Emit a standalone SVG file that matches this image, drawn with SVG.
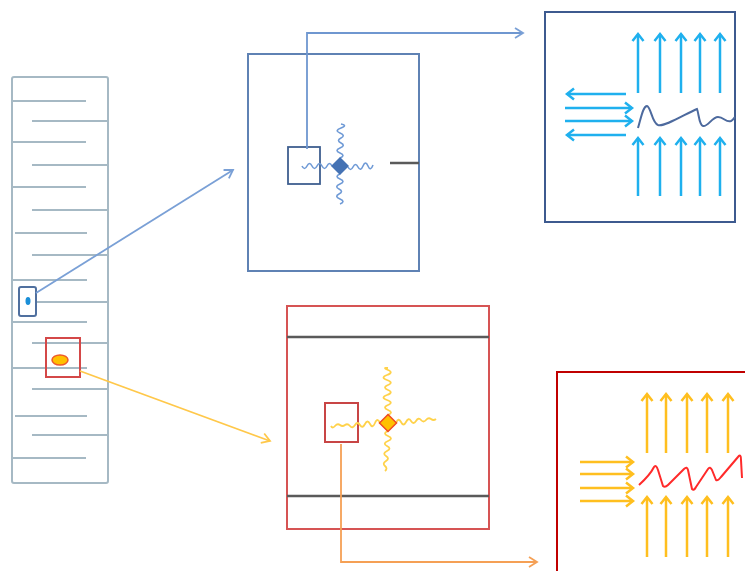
<svg xmlns="http://www.w3.org/2000/svg" width="745" height="571" viewBox="0 0 745 571">
  <style>
    .rung { stroke: #a6b9c4; stroke-width: 2; fill: none; }
    .sky { stroke: #1fb0ee; stroke-width: 2.5; fill: none; marker-end: url(#head-sky); }
    .amber { stroke: #ffbf1f; stroke-width: 2.5; fill: none; marker-end: url(#head-amber); }
    .wave-blue { stroke: #6f9ad6; stroke-width: 1.6; fill: none; }
    .wave-yellow { stroke: #ffd24a; stroke-width: 1.8; fill: none; }
    .divider { stroke: #5a5a5a; stroke-width: 2.5; }
  </style>
  <defs>
    <marker id="head-sky" markerUnits="userSpaceOnUse" markerWidth="14" markerHeight="14" refX="0" refY="0" viewBox="-8 -7 10 14" orient="auto">
      <path d="M-7,-5.5 L0,0 L-7,5.5" stroke="#1fb0ee" stroke-width="2.5" fill="none"/>
    </marker>
    <marker id="head-amber" markerUnits="userSpaceOnUse" markerWidth="14" markerHeight="14" refX="0" refY="0" viewBox="-8 -7 10 14" orient="auto">
      <path d="M-7,-5.5 L0,0 L-7,5.5" stroke="#ffbf1f" stroke-width="2.5" fill="none"/>
    </marker>
    <marker id="head-link-blue" markerUnits="userSpaceOnUse" markerWidth="14" markerHeight="14" refX="0" refY="0" viewBox="-9 -7 10 14" orient="auto">
      <path d="M-8,-5 L0,0 L-8,5" stroke="#7aa0d6" stroke-width="1.8" fill="none"/>
    </marker>
    <marker id="head-link-yellow" markerUnits="userSpaceOnUse" markerWidth="14" markerHeight="14" refX="0" refY="0" viewBox="-9 -7 10 14" orient="auto">
      <path d="M-8,-5 L0,0 L-8,5" stroke="#ffc84a" stroke-width="1.8" fill="none"/>
    </marker>
    <marker id="head-link-orange" markerUnits="userSpaceOnUse" markerWidth="14" markerHeight="14" refX="0" refY="0" viewBox="-9 -7 10 14" orient="auto">
      <path d="M-8,-5 L0,0 L-8,5" stroke="#f5a055" stroke-width="1.8" fill="none"/>
    </marker>
  </defs>

  <rect width="745" height="571" fill="#ffffff"/>

  <!-- ladder column -->
  <g id="column">
    <rect x="12" y="77" width="96" height="406" rx="2" fill="none" stroke="#a6b9c4" stroke-width="2"/>
    <path class="rung" d="M12,101H86 M12,142H86 M12,187H86 M15,233H87 M12,280H87 M12,322H87 M12,368H87 M15,416H87 M12,458H86"/>
    <path class="rung" d="M32,121H108 M32,165H108 M32,210H108 M32,255H108 M32,302H108 M32,343H108 M32,389H108 M32,435H108"/>
  </g>

  <g id="marker-blue">
    <rect x="19" y="287" width="17" height="29" rx="2" fill="#ffffff" stroke="#50709f" stroke-width="2"/>
    <ellipse cx="28" cy="301" rx="2.5" ry="4" fill="#1a8fd8"/>
  </g>

  <g id="marker-red">
    <rect x="46" y="338" width="34" height="39" fill="none" stroke="#d44848" stroke-width="2"/>
    <ellipse cx="60" cy="360" rx="8" ry="5" fill="#ffc000" stroke="#ee5a2a" stroke-width="1.5"/>
  </g>

  <!-- upper detail -->
  <g id="detail-blue">
    <rect x="248" y="54" width="171" height="217" fill="none" stroke="#5f82b4" stroke-width="2"/>
    <rect x="288" y="147" width="32" height="37" fill="none" stroke="#3f5f90" stroke-width="1.8"/>
    <path class="wave-blue" d="M340,158 q6,-2.5 0,-5 t0,-5 t1,-5 t0,-5 t-1,-5 t1,-5 t0,-4"/>
    <path class="wave-blue" d="M340,174 q-6,2.5 0,5 t0,5 t-1,5 t0,5 t1,5 t0,5"/>
    <path class="wave-blue" d="M348,167 q2.5,5 5,0 t5,0 t5,-1 t5,0 t5,-1"/>
    <path class="wave-blue" d="M332,166 q-2.5,-5 -5,0 t-5,0 t-5,0 t-5,0 t-5,0 t-5,0"/>
    <path d="M340,157 L349,166 L340,175 L331,166 Z" fill="#4472b4"/>
    <line class="divider" x1="390" y1="163" x2="419" y2="163"/>
  </g>

  <g id="view-blue">
    <rect x="545" y="12" width="190" height="210" fill="#ffffff" stroke="#3d5a8f" stroke-width="2"/>
    <line class="sky" x1="638" y1="93" x2="638" y2="34"/>
    <line class="sky" x1="660" y1="93" x2="660" y2="34"/>
    <line class="sky" x1="681" y1="93" x2="681" y2="34"/>
    <line class="sky" x1="700" y1="93" x2="700" y2="34"/>
    <line class="sky" x1="720" y1="93" x2="720" y2="34"/>
    <line class="sky" x1="638" y1="196" x2="638" y2="138"/>
    <line class="sky" x1="660" y1="196" x2="660" y2="138"/>
    <line class="sky" x1="681" y1="196" x2="681" y2="138"/>
    <line class="sky" x1="700" y1="196" x2="700" y2="138"/>
    <line class="sky" x1="720" y1="196" x2="720" y2="138"/>
    <line class="sky" x1="626" y1="94" x2="567" y2="94"/>
    <line class="sky" x1="565" y1="108" x2="632" y2="108"/>
    <line class="sky" x1="565" y1="121" x2="632" y2="121"/>
    <line class="sky" x1="626" y1="135" x2="567" y2="135"/>
    <path d="M638,128 C641,118 643,106 647,106 C651,107 652,123 658,125 C665,127 685,114 697,109 C699,114 699,125 703,126 C708,127 712,117 718,117 C724,117 726,123 731,121 C733,120 734,118 735,117" fill="none" stroke="#4d6a9e" stroke-width="2"/>
  </g>

  <!-- lower detail -->
  <g id="detail-red">
    <rect x="287" y="306" width="202" height="223" fill="none" stroke="#d65454" stroke-width="2"/>
    <line class="divider" x1="287" y1="337" x2="489" y2="337"/>
    <line class="divider" x1="287" y1="496" x2="489" y2="496"/>
    <rect x="325" y="403" width="33" height="39" fill="none" stroke="#c84545" stroke-width="2"/>
    <path class="wave-yellow" d="M388,415 q6,-2.5 0,-5 t0,-5 t-1,-5 t0,-5 t1,-5 t0,-5 t-1,-5 t0,-5 t1,-5 t0,-2"/>
    <path class="wave-yellow" d="M388,431 q-6,2.5 0,5 t0,5 t-1,5 t0,5 t-1,5 t0,5 t-1,5 t0,5"/>
    <path class="wave-yellow" d="M396,423 q2.5,-6 5,-1 t5,0 t5,-1 t5,0 t5,-1 t5,0 t5,-1 t5,0"/>
    <path class="wave-yellow" d="M380,423 q-2.5,-6 -5,0 t-5,1 t-5,0 t-5,1 t-5,0 t-5,1 t-5,-1 t-5,0 t-5,1 t-4,0"/>
    <path d="M388,414.5 L396.5,423 L388,431.5 L379.5,423 Z" fill="#ffc000" stroke="#f04a22" stroke-width="1.5"/>
  </g>

  <g id="view-red">
    <rect x="557" y="372" width="200" height="210" fill="#ffffff" stroke="#c00000" stroke-width="2"/>
    <line class="amber" x1="647" y1="453" x2="647" y2="394"/>
    <line class="amber" x1="666" y1="453" x2="666" y2="394"/>
    <line class="amber" x1="687" y1="453" x2="687" y2="394"/>
    <line class="amber" x1="707" y1="453" x2="707" y2="394"/>
    <line class="amber" x1="728" y1="453" x2="728" y2="394"/>
    <line class="amber" x1="647" y1="557" x2="647" y2="497"/>
    <line class="amber" x1="666" y1="557" x2="666" y2="497"/>
    <line class="amber" x1="687" y1="557" x2="687" y2="497"/>
    <line class="amber" x1="707" y1="557" x2="707" y2="497"/>
    <line class="amber" x1="728" y1="557" x2="728" y2="497"/>
    <line class="amber" x1="580" y1="462" x2="633" y2="462"/>
    <line class="amber" x1="580" y1="474" x2="633" y2="474"/>
    <line class="amber" x1="580" y1="488" x2="633" y2="488"/>
    <line class="amber" x1="580" y1="501" x2="633" y2="501"/>
    <!-- sawtooth trace -->
    <path d="M639,485 Q650,475 654,467 Q656,464 658,470 L663,486 Q665,488 668,485 L684,469 Q687,466 688,470 L692,489 Q694,491 696,487 L708,469 Q710,466 712,470 L716,480 Q718,481 721,477 L738,457 Q741,453 741,460 L742,478" fill="none" stroke="#ff2a2a" stroke-width="2" stroke-linejoin="round"/>
  </g>

  <!-- links between views -->
  <g id="connectors">
    <path d="M36,293 L233,170" fill="none" stroke="#7aa0d6" stroke-width="1.8" marker-end="url(#head-link-blue)"/>
    <path d="M307,149 V33 H523" fill="none" stroke="#6f97d0" stroke-width="1.8" marker-end="url(#head-link-blue)"/>
    <path d="M80,371 L270,441" fill="none" stroke="#ffc84a" stroke-width="1.8" marker-end="url(#head-link-yellow)"/>
    <path d="M341,444 V562 H537" fill="none" stroke="#f5a055" stroke-width="1.8" marker-end="url(#head-link-orange)"/>
  </g>
</svg>
